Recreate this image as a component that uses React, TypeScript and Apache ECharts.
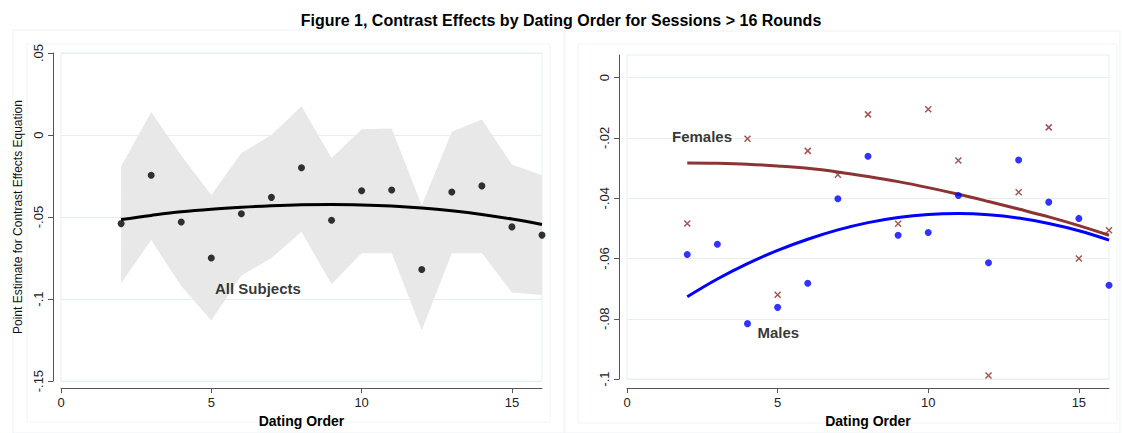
import React, { useEffect, useRef } from 'react';
import * as echarts from 'echarts';

// ---------- data ----------
const xs = [2, 3, 4, 5, 6, 7, 8, 9, 10, 11, 12, 13, 14, 15, 16];

// All subjects
const allPoints = [-0.054, -0.0245, -0.053, -0.075, -0.048, -0.038, -0.020, -0.052, -0.034, -0.0335, -0.082, -0.0347, -0.031, -0.056, -0.061];
const allUpper = [-0.019, 0.014, -0.0125, -0.0365, -0.011, 0.0, 0.0175, -0.014, 0.0035, 0.004, -0.043, 0.002, 0.0095, -0.018, -0.0245];
const allLower = [-0.0903, -0.064, -0.092, -0.113, -0.0857, -0.075, -0.059, -0.091, -0.072, -0.072, -0.119, -0.072, -0.072, -0.096, -0.0975];
const allFit = [-0.0515, -0.049, -0.0468, -0.0452, -0.044, -0.0431, -0.0425, -0.0423, -0.0426, -0.0433, -0.0445, -0.0462, -0.0484, -0.0512, -0.0545];

// Males / Females
const malePoints = [-0.0587, -0.0553, -0.0816, -0.0762, -0.0682, -0.0402, -0.0261, -0.0523, -0.0514, -0.0391, -0.0614, -0.0273, -0.0413, -0.0467, -0.0689];
const femalePoints = [-0.0484, 0.0076, -0.0203, -0.072, -0.0243, -0.0322, -0.0122, -0.0485, -0.0105, -0.0275, -0.0988, -0.038, -0.0165, -0.060, -0.0506];
const maleFit = [-0.0727, -0.0668, -0.0617, -0.0573, -0.0536, -0.0505, -0.0481, -0.0464, -0.0454, -0.0451, -0.0455, -0.0466, -0.0484, -0.0508, -0.0539];
const femaleFit = [-0.0283, -0.0284, -0.0287, -0.0293, -0.0301, -0.0313, -0.0328, -0.0345, -0.0365, -0.0387, -0.0411, -0.0436, -0.0462, -0.0491, -0.0523];

// ticks
const xTicks = [0, 5, 10, 15];
const leftYTicks = [-0.15, -0.1, -0.05, 0, 0.05];
const rightYTicks = [-0.1, -0.08, -0.06, -0.04, -0.02, 0];

// texts
const titleText = 'Figure 1, Contrast Effects by Dating Order for Sessions > 16 Rounds';
const xTitle = 'Dating Order';
const yTitle = 'Point Estimate for Contrast Effects Equation';
const leftLabels = [{ name: 'All Subjects', value: [6.55, -0.0934] }];
const rightLabels = [
  { name: 'Females', value: [2.49, -0.0194] },
  { name: 'Males', value: [5.02, -0.0845] },
];

const FONT = '"Liberation Sans", Arial, Helvetica, sans-serif';
const AXIS_COLOR = '#555';
const GRID_COLOR = '#e6efef';

const fmt = (v: number) => {
  const r = Math.round(v * 1000) / 1000;
  if (r === 0) return '0';
  return String(r).replace(/^(-?)0\./, '$1.');
};

const pairs = (ys: number[]) => xs.map((x, i) => [x, ys[i]]);

function xAxisCfg(gridIndex: number, offset: number) {
  return {
    type: 'value',
    gridIndex,
    min: 0,
    max: 16,
    offset,
    name: xTitle,
    nameLocation: 'middle',
    nameGap: 23,
    nameTextStyle: { fontFamily: FONT, fontSize: 14, fontWeight: 'bold', color: '#000' },
    axisLine: { show: true, onZero: false, lineStyle: { color: AXIS_COLOR, width: 1 } },
    axisTick: { show: true, length: 5, customValues: xTicks, lineStyle: { color: AXIS_COLOR } },
    axisLabel: { customValues: xTicks, fontFamily: FONT, fontSize: 13, color: '#222', margin: 8, formatter: (v: number) => fmt(v) },
    splitLine: { show: false },
  };
}

function yAxisCfg(gridIndex: number, min: number, max: number, ticks: number[], withName: boolean) {
  return {
    type: 'value',
    gridIndex,
    min,
    max,
    offset: 8,
    name: withName ? yTitle : '',
    nameLocation: 'middle',
    nameGap: 29,
    nameRotate: 90,
    nameTextStyle: { fontFamily: FONT, fontSize: 12, color: '#111' },
    axisLine: { show: true, onZero: false, lineStyle: { color: AXIS_COLOR, width: 1 } },
    axisTick: { show: true, length: 5, customValues: ticks, lineStyle: { color: AXIS_COLOR } },
    axisLabel: { customValues: ticks, rotate: 90, fontFamily: FONT, fontSize: 13, color: '#222', margin: 8, formatter: (v: number) => fmt(v) },
    splitLine: { show: true, lineStyle: { color: GRID_COLOR, width: 1 } },
  };
}

export default function App() {
  const ref = useRef<HTMLDivElement>(null);

  useEffect(() => {
    if (!ref.current) return;
    const chart = echarts.init(ref.current, undefined, { renderer: 'svg' });

    const option: any = {
      animation: false,
      backgroundColor: '#fff',
      title: {
        text: titleText,
        left: 'center',
        top: 7,
        textStyle: { fontFamily: FONT, fontSize: 16, fontWeight: 'bold', color: '#000' },
      },
      graphic: [
        { type: 'rect', shape: { x: 13, y: 30, width: 551, height: 403 }, style: { fill: 'none', stroke: '#edf3f3', lineWidth: 1 }, silent: true },
        { type: 'rect', shape: { x: 27, y: 44, width: 523, height: 378 }, style: { fill: 'none', stroke: '#f1f6f6', lineWidth: 1 }, silent: true },
        { type: 'rect', shape: { x: 565, y: 31, width: 555, height: 402 }, style: { fill: 'none', stroke: '#edf3f3', lineWidth: 1 }, silent: true },
        { type: 'rect', shape: { x: 578, y: 44, width: 539, height: 379 }, style: { fill: 'none', stroke: '#f1f6f6', lineWidth: 1 }, silent: true },
      ],
      grid: [
        { left: 61, right: 580, top: 53, bottom: 46, show: true, borderColor: GRID_COLOR, borderWidth: 1, backgroundColor: 'transparent' },
        { left: 627, right: 13, top: 55, bottom: 45, show: true, borderColor: GRID_COLOR, borderWidth: 1, backgroundColor: 'transparent' },
      ],
      xAxis: [xAxisCfg(0, 7), xAxisCfg(1, 9)],
      yAxis: [
        yAxisCfg(0, -0.15, 0.05, leftYTicks, true),
        yAxisCfg(1, -0.1, 0.0075, rightYTicks, false),
      ],
      series: [
        {
          type: 'custom',
          xAxisIndex: 0,
          yAxisIndex: 0,
          silent: true,
          z: 1,
          data: [[xs[0], allUpper[0]]],
          renderItem: (params: any, api: any) => {
            if (params.dataIndex !== 0) return null;
            const pts: number[][] = xs.map((x, i) => api.coord([x, allUpper[i]]));
            for (let i = xs.length - 1; i >= 0; i--) pts.push(api.coord([xs[i], allLower[i]]));
            return { type: 'polygon', shape: { points: pts }, style: { fill: '#e8e8e8' } };
          },
        },
        {
          type: 'line',
          xAxisIndex: 0,
          yAxisIndex: 0,
          data: pairs(allFit),
          smooth: 0.4,
          showSymbol: false,
          symbol: 'none',
          lineStyle: { color: '#000', width: 3 },
          z: 3,
        },
        {
          type: 'scatter',
          xAxisIndex: 0,
          yAxisIndex: 0,
          data: pairs(allPoints),
          symbol: 'circle',
          symbolSize: 7,
          itemStyle: { color: '#000' },
          z: 4,
        },
        {
          type: 'scatter',
          xAxisIndex: 0,
          yAxisIndex: 0,
          data: leftLabels,
          symbolSize: 0,
          silent: true,
          label: { show: true, position: 'inside', formatter: (p: any) => p.name, fontFamily: FONT, fontSize: 15, fontWeight: 'bold', color: '#000' },
          z: 5,
        },
        // right panel
        {
          type: 'line',
          xAxisIndex: 1,
          yAxisIndex: 1,
          data: pairs(femaleFit),
          smooth: 0.4,
          symbol: 'none',
          lineStyle: { color: '#8c3434', width: 3 },
          z: 3,
        },
        {
          type: 'line',
          xAxisIndex: 1,
          yAxisIndex: 1,
          data: pairs(maleFit),
          smooth: 0.4,
          symbol: 'none',
          lineStyle: { color: '#0000ff', width: 3 },
          z: 3,
        },
        {
          type: 'scatter',
          xAxisIndex: 1,
          yAxisIndex: 1,
          data: pairs(malePoints),
          symbol: 'circle',
          symbolSize: 7,
          itemStyle: { color: '#0000ff' },
          z: 4,
        },
        {
          type: 'scatter',
          xAxisIndex: 1,
          yAxisIndex: 1,
          data: pairs(femalePoints),
          symbol: 'path://M0,0L10,10M10,0L0,10',
          symbolSize: 6,
          itemStyle: { color: 'none', borderColor: '#8b2a2a', borderWidth: 1.5 },
          z: 4,
        },
        {
          type: 'scatter',
          xAxisIndex: 1,
          yAxisIndex: 1,
          data: rightLabels,
          symbolSize: 0,
          silent: true,
          label: { show: true, position: 'inside', formatter: (p: any) => p.name, fontFamily: FONT, fontSize: 15, fontWeight: 'bold', color: '#000' },
          z: 5,
        },
      ],
    };

    chart.setOption(option);
    return () => chart.dispose();
  }, []);

  return <div ref={ref} style={{ position: 'fixed', left: 0, top: 0, width: 1122, height: 433 }} />;
}
